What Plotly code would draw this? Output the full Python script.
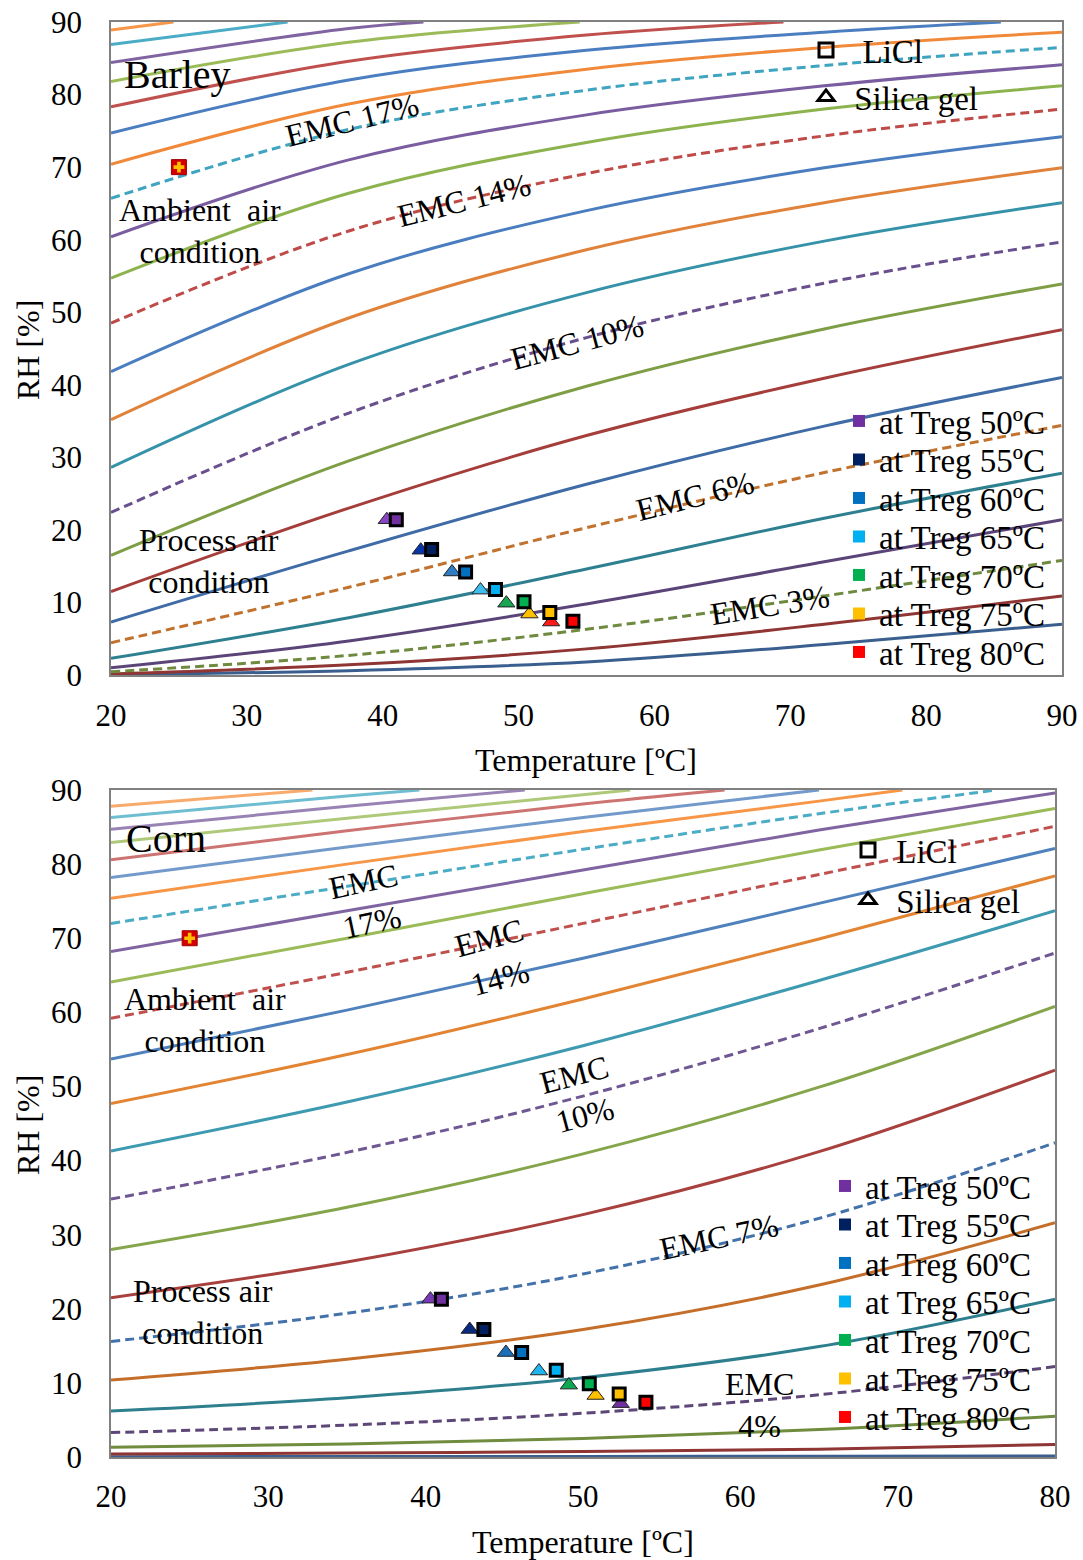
import plotly.graph_objects as go

FONT = "Liberation Serif"

# ---------------- Barley (top panel) ----------------
barley_T = [20, 37.5, 55, 72.5, 90]
barley_rh = {
    1: [0.05, 0.6, 1.8, 4.2, 7.0],
    2: [0.15, 1.4, 3.6, 7.0, 10.9],
    3: [0.45, 2.7, 6.3, 10.9, 15.8],
    4: [1.0, 4.7, 9.8, 15.6, 21.4],
    5: [2.3, 7.9, 14.6, 21.6, 27.8],
    6: [4.45, 12.1, 20.3, 27.9, 34.4],
    7: [7.3, 17.1, 26.3, 34.3, 41.0],
    8: [11.5, 23.0, 33.0, 40.9, 47.6],
    9: [16.5, 29.5, 39.8, 47.7, 53.9],
    10: [22.4, 36.1, 46.5, 54.0, 59.7],
    11: [28.6, 42.8, 52.7, 59.8, 65.1],
    12: [35.2, 49.2, 58.6, 65.1, 69.9],
    13: [41.8, 55.3, 64.0, 69.9, 74.2],
    14: [48.5, 61.2, 69.1, 74.3, 78.0],
    15: [54.7, 66.4, 73.4, 78.0, 81.2],
    16: [60.4, 71.0, 77.2, 81.2, 84.1],
    17: [65.7, 75.2, 80.6, 84.0, 86.5],
    18: [70.4, 78.7, 83.5, 86.5, 88.6],
    19: [74.7, 82.0, 86.1, 88.6, None],
    20: [78.3, 84.6, 88.2, None, None],
    21: [81.8, 87.2, None, None, None],
    22: [84.4, 89.1, None, None, None],
    23: [86.9, None, None, None, None],
    24: [88.9, None, None, None, None],
}
# temperature where an isotherm leaves the top of the chart (RH = 90)
barley_exit_T = {19: 85.5, 20: 69.5, 21: 54.5, 22: 43.0, 23: 33.0, 24: 24.6}
barley_dashed = [3, 6, 10, 14, 17]
barley_colors = {
    1: "#3A5F8E", 2: "#8F3533", 3: "#6E8A3E", 4: "#5A4478", 5: "#2E8090",
    6: "#C0722E", 7: "#3F6BA6", 8: "#A53E3B", 9: "#7E9E45", 10: "#6A4F8E",
    11: "#3592A8", 12: "#E0823A", 13: "#4A7DBF", 14: "#BE4B48", 15: "#8DB34F",
    16: "#7A5CA0", 17: "#3FA4C0", 18: "#F08A3A", 19: "#4A7EC0", 20: "#C0504D",
    21: "#9BBB59", 22: "#8064A2", 23: "#4BACC6", 24: "#F79646",
}

# ---------------- Corn (bottom panel) ----------------
corn_T = [20, 35, 50, 65, 80]
corn_rh = {
    1: [0.05, 0.06, 0.08, 0.11, 0.15],
    2: [0.4, 0.53, 0.73, 1.06, 1.7],
    3: [1.3, 1.75, 2.5, 3.7, 5.5],
    4: [3.3, 4.3, 5.9, 8.4, 12.2],
    5: [6.2, 8.0, 10.7, 14.9, 21.3],
    6: [10.4, 13.2, 17.2, 23.2, 31.6],
    7: [15.6, 19.4, 24.7, 32.2, 42.4],
    8: [21.5, 26.3, 32.7, 41.2, 52.2],
    9: [28.0, 33.7, 40.9, 49.9, 60.8],
    10: [34.8, 41.1, 48.7, 57.8, 68.0],
    11: [41.3, 47.9, 55.5, 64.3, 73.7],
    12: [47.7, 54.3, 61.8, 69.9, 78.4],
    13: [53.7, 60.3, 67.3, 74.7, 82.1],
    14: [59.2, 65.4, 72.0, 78.6, 85.1],
    15: [64.1, 70.0, 76.0, 81.9, 87.5],
    16: [68.2, 73.7, 79.2, 84.6, 89.6],
    17: [72.0, 77.0, 82.0, 86.8, None],
    18: [75.4, 80.0, 84.4, 88.5, None],
    19: [78.2, 82.3, 86.3, None, None],
    20: [80.6, 84.5, 88.1, None, None],
    21: [82.9, 86.2, None, None, None],
    22: [84.7, 87.8, None, None, None],
    23: [86.3, 89.2, None, None, None],
    24: [87.8, None, None, None, None],
}
corn_exit_T = {17: 76.3, 18: 70.3, 19: 65.0, 20: 59.0, 21: 53.0, 22: 46.3, 23: 39.6, 24: 32.8}
corn_dashed = [4, 7, 10, 14, 17]
corn_colors = {
    1: "#3A5F8E", 2: "#8F3533", 3: "#6F8C3F", 4: "#5D4778", 5: "#2E7F8E",
    6: "#C46E2A", 7: "#4372AA", 8: "#A8403D", 9: "#84A54A", 10: "#6E5792",
    11: "#3D9AB0", 12: "#E38432", 13: "#4F81BD", 14: "#C0504D", 15: "#9BBB59",
    16: "#8064A2", 17: "#4BACC6", 18: "#F79646", 19: "#729ACA", 20: "#CD7371",
    21: "#AFC97A", 22: "#9983B5", 23: "#6FBDD1", 24: "#F9AB6B",
}

# ---------------- Process / ambient air points ----------------
treg_labels = ["at Treg 50ºC", "at Treg 55ºC", "at Treg 60ºC", "at Treg 65ºC",
               "at Treg 70ºC", "at Treg 75ºC", "at Treg 80ºC"]
treg_colors = ["#7030A0", "#002060", "#0070C0", "#00B0F0", "#00B050", "#FFC000", "#FF0000"]
tri_colors_barley = ["#8A45C4", "#0A35A8", "#2E7CC4", "#3DBDEE", "#1AA552", "#FFC000", "#FF1A1A"]
tri_colors_corn = ["#7A3AB8", "#0A2A80", "#1C6FB8", "#1EB4EE", "#0EA850", "#FFC000", "#7030A0"]

barley_licl_T = [41.0, 43.6, 46.1, 48.3, 50.4, 52.3, 54.0]
barley_licl_RH = [21.4, 17.3, 14.2, 11.8, 10.1, 8.6, 7.4]
barley_sg_T = [40.3, 42.8, 45.1, 47.2, 49.1, 50.8, 52.4]
barley_sg_RH = [21.4, 17.2, 14.2, 11.7, 9.9, 8.4, 7.3]

corn_licl_T = [41.0, 43.7, 46.1, 48.3, 50.4, 52.3, 54.0]
corn_licl_RH = [21.3, 17.2, 14.1, 11.7, 9.9, 8.5, 7.4]
corn_sg_T = [40.3, 42.8, 45.1, 47.2, 49.1, 50.8, 52.4]
corn_sg_RH = [21.3, 17.2, 14.1, 11.6, 9.7, 8.3, 7.2]

ambient_T = [25.0]
ambient_RH = [70.0]

fig = go.Figure()


def add_isotherms(T, rh, exit_T, dashed, colors, xa, ya):
    for emc, vals in rh.items():
        xs = [t for t, v in zip(T, vals) if v is not None]
        ys = [v for v in vals if v is not None]
        if emc in exit_T:
            xs.append(exit_T[emc])
            ys.append(90)
        fig.add_trace(go.Scatter(
            x=xs, y=ys, mode="lines", xaxis=xa, yaxis=ya, showlegend=False,
            line=dict(color=colors[emc], width=3, shape="spline", smoothing=1.0,
                      dash="9px,5px" if emc in dashed else "solid"),
            hoverinfo="skip"))


add_isotherms(barley_T, barley_rh, barley_exit_T, barley_dashed, barley_colors, "x", "y")
add_isotherms(corn_T, corn_rh, corn_exit_T, corn_dashed, corn_colors, "x2", "y2")


def add_points(sgT, sgRH, liT, liRH, tri_cols, xa, ya):
    fig.add_trace(go.Scatter(
        x=sgT, y=sgRH, mode="markers", xaxis=xa, yaxis=ya, showlegend=False,
        marker=dict(symbol="triangle-up", size=15, color=tri_cols,
                    line=dict(color="#222222", width=1))))
    fig.add_trace(go.Scatter(
        x=liT, y=liRH, mode="markers", xaxis=xa, yaxis=ya, showlegend=False,
        marker=dict(symbol="square", size=12, color=treg_colors,
                    line=dict(color="black", width=3))))
    fig.add_trace(go.Scatter(
        x=ambient_T, y=ambient_RH, mode="markers", xaxis=xa, yaxis=ya, showlegend=False,
        marker=dict(symbol="square", size=15, color="#D40000",
                    line=dict(color="#A00000", width=1))))
    fig.add_trace(go.Scatter(
        x=ambient_T, y=ambient_RH, mode="markers", xaxis=xa, yaxis=ya, showlegend=False,
        marker=dict(symbol="cross", size=9, color="#FFC000", line=dict(width=0))))


add_points(barley_sg_T, barley_sg_RH, barley_licl_T, barley_licl_RH, tri_colors_barley, "x", "y")
add_points(corn_sg_T, corn_sg_RH, corn_licl_T, corn_licl_RH, tri_colors_corn, "x2", "y2")

# ---------------- Legends (one legend per entry for exact placement) ----------------
W, H = 1083, 1560
legend_layouts = {}
n = [0]


def add_legend_entry(name, symbol, color, line_color, line_w, size, px_x, px_y):
    n[0] += 1
    key = "legend" if n[0] == 1 else f"legend{n[0]}"
    fig.add_trace(go.Scatter(
        x=[None], y=[None], mode="markers", name=name, legend=key, showlegend=True,
        marker=dict(symbol=symbol, size=size, color=color,
                    line=dict(color=line_color, width=line_w))))
    legend_layouts[key] = dict(
        x=(px_x - 20) / W, y=1 - px_y / H, xanchor="left", yanchor="middle",
        bgcolor="rgba(0,0,0,0)", borderwidth=0, itemsizing="trace",
        font=dict(family=FONT, size=33, color="black"))


NB = "\u00a0"
# top panel
add_legend_entry(NB * 2 + "LiCl", "square-open", "black", "black", 3, 14, 826, 50)
add_legend_entry(NB + "Silica gel", "triangle-up-open", "black", "black", 3, 14, 826, 97)
for i, (lab, col) in enumerate(zip(treg_labels, treg_colors)):
    add_legend_entry(lab, "square", col, col, 0, 12, 859, [421, 459.5, 498, 536.5, 575, 613.5, 652][i])
# bottom panel
add_legend_entry(NB + "LiCl", "square-open", "black", "black", 3, 14, 868, 850)
add_legend_entry(NB + "Silica gel", "triangle-up-open", "black", "black", 3, 14, 868, 900)
for i, (lab, col) in enumerate(zip(treg_labels, treg_colors)):
    add_legend_entry(lab, "square", col, col, 0, 12, 845, [1186, 1224.5, 1263, 1301.5, 1340, 1378.5, 1417][i])

# ---------------- Axes ----------------
axis_common = dict(showgrid=False, zeroline=False, showline=True, mirror=True,
                   linecolor="#808080", linewidth=1.5, ticks="", automargin=False,
                   tickfont=dict(family=FONT, size=31, color="black"), dtick=10)

fig.update_layout(
    width=W, height=H, margin=dict(l=0, r=0, t=0, b=0, autoexpand=False),
    paper_bgcolor="white", plot_bgcolor="white",
    font=dict(family=FONT, color="black"),
    xaxis=dict(domain=[111 / W, 1062 / W], range=[20, 90], anchor="y",
               ticklabelstandoff=12, **axis_common),
    yaxis=dict(domain=[1 - 675 / H, 1 - 22 / H], range=[0, 90], anchor="x",
               ticklabelstandoff=21, **axis_common),
    xaxis2=dict(domain=[111 / W, 1055 / W], range=[20, 80], anchor="y2",
                ticklabelstandoff=11, **axis_common),
    yaxis2=dict(domain=[1 - 1457 / H, 1 - 790 / H], range=[0, 90], anchor="x2",
                ticklabelstandoff=21, **axis_common),
    **legend_layouts,
)

# ---------------- Text annotations ----------------
ann = []


def txt(text, x, y, xref, yref, size=32, angle=0, xanchor="center", yanchor="middle"):
    ann.append(dict(text=text, x=x, y=y, xref=xref, yref=yref, showarrow=False,
                    textangle=angle, xanchor=xanchor, yanchor=yanchor,
                    font=dict(family=FONT, size=size, color="black")))


# axis titles
txt("Temperature [ºC]", 586 / W, 1 - 760 / H, "paper", "paper")
txt("RH [%]", 28 / W, 1 - 350 / H, "paper", "paper", angle=-90)
txt("Temperature [ºC]", 583 / W, 1 - 1542 / H, "paper", "paper")
txt("RH [%]", 28 / W, 1 - 1125 / H, "paper", "paper", angle=-90)

# top panel labels
txt("Barley", 20.8, 82.7, "x", "y", size=40, xanchor="left")
txt("Ambient" + NB * 2 + "air<br>condition", 26.55, 61.2, "x", "y")
txt("Process air<br>condition", 27.2, 15.7, "x", "y")
txt("EMC 17%", 37.74, 76.5, "x", "y", angle=-14)
txt("EMC 14%", 46.0, 65.5, "x", "y", angle=-14)
txt("EMC 10%", 54.3, 45.9, "x", "y", angle=-15)
txt("EMC 6%", 63.0, 24.7, "x", "y", angle=-14)
txt("EMC 3%", 68.5, 9.6, "x", "y", angle=-9)

# bottom panel labels
txt("Corn", 20.8, 83.5, "x2", "y2", size=40, xanchor="left")
txt("Ambient" + NB * 2 + "air<br>condition", 26.0, 59.0, "x2", "y2")
txt("Process air<br>condition", 25.85, 19.6, "x2", "y2")
txt("EMC<br>17%", 36.3, 74.9, "x2", "y2", angle=-12)
txt("EMC<br>14%", 44.4, 67.3, "x2", "y2", angle=-15)
txt("EMC<br>10%", 49.8, 48.8, "x2", "y2", angle=-15)
txt("EMC 7%", 58.65, 29.7, "x2", "y2", angle=-12)
txt("EMC<br>4%", 61.2, 7.0, "x2", "y2")

fig.update_layout(annotations=ann)

fig.write_html("out.html")
